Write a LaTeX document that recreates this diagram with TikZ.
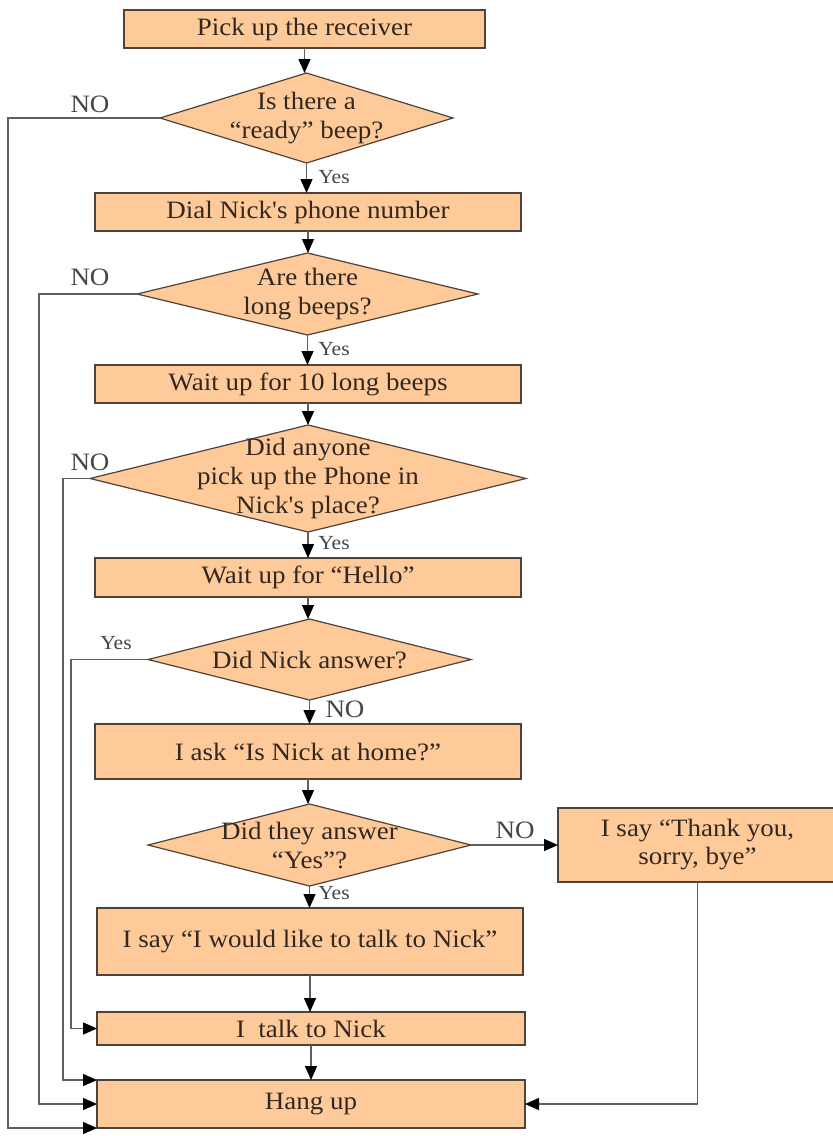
\documentclass[tikz,border=0pt]{standalone}
\usepackage{fontspec}
\newfontfamily\flowfont{Liberation Serif}[FakeStretch=1.08]
\usetikzlibrary{shapes.geometric,arrows.meta}
\definecolor{boxfill}{RGB}{255,202,153}
\definecolor{boxline}{RGB}{80,66,55}
\definecolor{conn}{RGB}{95,95,95}
\definecolor{txt}{RGB}{50,40,33}
\definecolor{lbl}{RGB}{70,70,70}
\begin{document}
\begin{tikzpicture}[x=1pt,y=-1pt,
  procbox/.style={rectangle,draw=boxline,fill=boxfill,line width=1.4pt,inner sep=0pt,outer sep=0pt,
    text=txt,font=\flowfont\fontsize{25}{28}\selectfont,align=center},
  decision/.style={diamond,draw=boxline,fill=boxfill,line width=1.2pt,inner sep=0pt,outer sep=0pt},
  dtext/.style={text=txt,font=\flowfont\fontsize{25}{29}\selectfont,align=center,inner sep=0pt},
  biglbl/.style={text=lbl,font=\flowfont\fontsize{25}{28}\selectfont,inner sep=0pt},
  smalllbl/.style={text=lbl,font=\flowfont\fontsize{20}{22}\selectfont,inner sep=0pt},
  flow/.style={draw=conn,line width=1.3pt,-{Triangle[length=14pt,width=12pt,color=black]}}
]
\useasboundingbox (0,0) rectangle (833,1136);
\fill[white] (0,0) rectangle (833,1136);

% process boxes
\node[procbox,minimum width=361pt,minimum height=38pt] (b1) at (304.5,29) {Pick up the receiver};
\node[procbox,minimum width=426pt,minimum height=38pt] (b2) at (308,212) {Dial Nick's phone number};
\node[procbox,minimum width=426pt,minimum height=38pt] (b3) at (308,384) {Wait up for 10 long beeps};
\node[procbox,minimum width=426pt,minimum height=39pt] (b4) at (308,577.5) {Wait up for “Hello”};
\node[procbox,minimum width=426pt,minimum height=55pt] (b5) at (308,751.5) {I ask “Is Nick at home?”};
\node[procbox,minimum width=279pt,minimum height=74pt] (b6) at (697.5,845) {I say “Thank you,\\sorry, bye”};
\node[procbox,minimum width=426pt,minimum height=67pt] (b7) at (310,941.5) {I say “I would like to talk to Nick”};
\node[procbox,minimum width=428pt,minimum height=33pt] (b8) at (311,1028.5) {I\ \ talk to Nick};
\node[procbox,minimum width=428pt,minimum height=48pt] (b9) at (311,1104) {Hang up};

% decisions
\node[decision,minimum width=293pt,minimum height=90pt,
  label={[dtext]center:{Is there a\\“ready” beep?}}] (d1) at (306.5,118) {};
\node[decision,minimum width=341pt,minimum height=82pt,
  label={[dtext]center:{Are there\\long beeps?}}] (d2) at (307.5,294) {};
\node[decision,minimum width=436pt,minimum height=107pt,
  label={[dtext]center:{Did anyone\\pick up the Phone in\\Nick's place?}}] (d3) at (308,478.5) {};
\node[decision,minimum width=323pt,minimum height=81pt,
  label={[dtext]center:{Did Nick answer?}}] (d4) at (309.5,659.5) {};
\node[decision,minimum width=323pt,minimum height=82pt,
  label={[dtext]center:{Did they answer\\“Yes”?}}] (d5) at (309.5,845) {};

% vertical main flow
\draw[flow] (b1.south) -- (b1.south |- d1.north);
\draw[flow] (d1.south) -- (d1.south |- b2.north);
\draw[flow] (b2.south) -- (b2.south |- d2.north);
\draw[flow] (d2.south) -- (d2.south |- b3.north);
\draw[flow] (b3.south) -- (b3.south |- d3.north);
\draw[flow] (d3.south) -- (d3.south |- b4.north);
\draw[flow] (b4.south) -- (b4.south |- d4.north);
\draw[flow] (d4.south) -- (d4.south |- b5.north);
\draw[flow] (b5.south) -- (b5.south |- d5.north);
\draw[flow] (d5.south) -- (d5.south |- b7.north);
\draw[flow] (b7.south) -- (b7.south |- b8.north);
\draw[flow] (b8.south) -- (b8.south |- b9.north);

% side branches
\coordinate (x1) at (8,0);
\coordinate (x2) at (39,0);
\coordinate (x3) at (63,0);
\coordinate (x4) at (71,0);
\draw[flow] (d1.west) -| (x1 |- b9.south west) -- (b9.south west);
\draw[flow] (d2.west) -| (x2 |- b9.west) -- (b9.west);
\draw[flow] (d3.west) -| (x3 |- b9.north west) -- (b9.north west);
\draw[flow] (d4.west) -| (x4 |- b8.west) -- (b8.west);
\draw[flow] (d5.east) -- (b6.west);
\draw[flow] (b6.south) |- (b9.east);

% labels
\node[biglbl] (n1) at (90,104) {NO};
\node[biglbl] (n2) at (90,277) {NO};
\node[biglbl] (n3) at (90,462) {NO};
\node[smalllbl] (y4) at (116,643) {Yes};
\node[biglbl] (n4) at (345,709) {NO};
\node[biglbl] (n5) at (515,830) {NO};
\node[smalllbl] (y1) at (334,177) {Yes};
\node[smalllbl] (y2) at (334,349) {Yes};
\node[smalllbl] (y3) at (334,543) {Yes};
\node[smalllbl] (y5) at (334,893) {Yes};
\end{tikzpicture}
\end{document}
